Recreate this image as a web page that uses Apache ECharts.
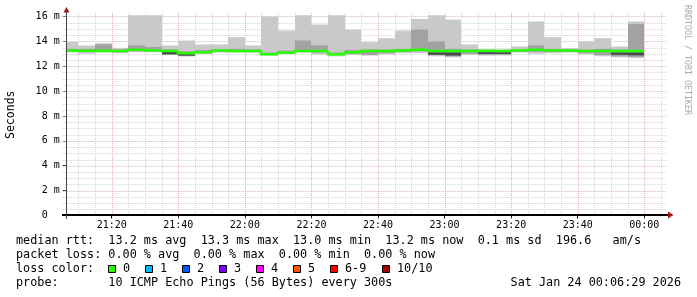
<!DOCTYPE html>
<html><head><meta charset="utf-8">
<script src="https://cdn.jsdelivr.net/npm/echarts@6/dist/echarts.min.js"></script>
<style>html,body{margin:0;padding:0;background:#fff}#c{width:697px;height:297px}</style>
</head><body><div id="c"></div>
<script>
// ---- data (ms), one entry per 5-minute step, keyed by step end time ----
const barEnds = ['21:10','21:15','21:20','21:25','21:30','21:35','21:40','21:45','21:50','21:55',
  '22:00','22:05','22:10','22:15','22:20','22:25','22:30','22:35','22:40','22:45',
  '22:50','22:55','23:00','23:05','23:10','23:15','23:20','23:25','23:30','23:35',
  '23:40','23:45','23:50','23:55','00:00'];
const rttMax = [13.95,13.67,13.85,13.48,16.10,16.10,13.67,14.07,13.75,13.75,
  14.34,13.67,16.00,14.87,16.10,15.35,16.10,14.95,13.93,14.25,
  14.87,15.80,16.10,15.75,13.75,13.35,13.35,13.59,15.60,14.34,
  13.46,13.99,14.25,13.59,15.60];
const rttMin = [13.12,13.00,13.10,13.05,13.12,13.12,12.90,12.78,13.00,13.10,
  13.10,13.10,12.86,13.00,13.10,12.94,12.80,13.05,12.86,12.94,
  13.05,13.05,12.80,12.72,12.90,12.86,12.86,13.10,13.00,13.05,
  13.10,12.95,12.80,12.72,12.65];
const rttMidHi = [13.40,13.40,13.75,13.35,13.67,13.55,13.35,13.20,13.30,13.35,
  13.40,13.35,13.10,13.25,14.07,13.67,13.10,13.30,13.35,13.35,
  13.40,14.95,13.99,13.40,13.35,13.30,13.30,13.35,13.67,13.40,
  13.35,13.35,13.40,13.35,15.40];
const rttMidLo = [13.18,13.15,13.15,13.12,13.20,13.20,13.00,12.85,13.05,13.18,
  13.15,13.15,12.90,13.02,13.15,13.10,12.90,12.95,12.90,13.05,
  13.15,13.20,12.90,12.80,13.00,12.95,12.95,13.18,13.15,13.15,
  13.18,13.05,12.90,12.80,12.75];
const rttCoreLo = [null,null,null,null,null,null,12.95,12.85,null,null,
  null,null,12.99,null,null,null,12.99,null,null,null,
  null,null,12.92,12.86,null,12.98,12.98,null,null,null,
  null,null,null,12.92,12.88];
const rttCoreHi = [null,null,null,null,null,null,13.15,13.00,null,null,
  null,null,13.05,null,null,null,13.05,null,null,null,
  null,null,13.12,13.12,null,13.12,13.12,null,null,null,
  null,null,null,13.12,13.12];
const rttMedian = [13.25,13.24,13.24,13.22,13.32,13.26,13.22,13.05,13.13,13.26,
  13.22,13.22,12.96,13.08,13.22,13.22,12.96,13.13,13.22,13.22,
  13.26,13.32,13.22,13.22,13.22,13.25,13.22,13.26,13.32,13.26,
  13.26,13.22,13.22,13.22,13.22];
const xTickLabels = ['21:20','21:40','22:00','22:20','22:40','23:00','23:20','23:40','00:00'];
const yTickValues = [0,2,4,6,8,10,12,14,16];
const graphStartTime = '21:06:29';
const rttStats = {avg:'13.2', max:'13.3', min:'13.0', now:'13.2', sd:'0.1', amps:'196.6'};
const lossStats = {avg:'0.00', max:'0.00', min:'0.00', now:'0.00'};
const lossLabels = ['0','1','2','3','4','5','6-9','10/10'];
const lossColors = ['#26ff00','#00b8ff','#0059ff','#7e00ff','#ff00ff','#ff5500','#ff0000','#a10000'];
const probeText = '10 ICMP Echo Pings (56 Bytes) every 300s';
const dateText = 'Sat Jan 24 00:06:29 2026';

// ---- helpers ----
const MONO = '"DejaVu Sans Mono", monospace';
function toMin(s){ const p = s.split(':').map(Number); return (p[0] < 12 ? p[0] + 24 : p[0]) * 60 + p[1] + (p[2] || 0) / 60; }
const tStart = toMin(graphStartTime);
const tEnd = tStart + 180;
const ends = barEnds.map(toMin);
const starts = ends.map((e, i) => i === 0 ? tStart : ends[i - 1]);
const xTickVals = xTickLabels.map(toMin);
const Y_MAX = 16.2;
const C_OUT = '#c9c9c9', C_MID = '#a2a2a2', C_CORE = '#4a4a4a', GREEN = lossColors[0];
const MAJ = '#eab0b0', MINC = '#d4d4d4';

const vGrid = []; for (let m = 1270; m <= 1445; m += 5) vGrid.push([m, 0]);
const hGrid = []; for (let v = 0.5; v <= 16; v += 0.5) hGrid.push([tStart, v]);

function fmtX(v){ const m = Math.round(v) % 1440; const h = Math.floor(m / 60), mm = m % 60; return String(h).padStart(2,'0') + ':' + String(mm).padStart(2,'0'); }
function fmtY(v){ if (v === 0) return ' 0  '; return (v < 10 ? ' ' : '') + v + ' m'; }

const chart = echarts.init(document.getElementById('c'), null, {renderer: 'canvas'});
const row1 = 'median rtt:  ' + rttStats.avg + ' ms avg  ' + rttStats.max + ' ms max  ' + rttStats.min + ' ms min  ' + rttStats.now + ' ms now  ' + rttStats.sd + ' ms sd  ' + rttStats.amps + '   am/s';
const row2 = 'packet loss: ' + lossStats.avg + ' % avg  ' + lossStats.max + ' % max  ' + lossStats.min + ' % min  ' + lossStats.now + ' % now';
const legendFont = {fontFamily: MONO, fontSize: 11.8, fill: '#000'};
const graphics = [
  {type:'text', x:16, y:241.3, style:Object.assign({text: row1, verticalAlign:'middle'}, legendFont)},
  {type:'text', x:16, y:254.7, style:Object.assign({text: row2, verticalAlign:'middle'}, legendFont)},
  {type:'text', x:16, y:269, style:Object.assign({text: 'loss color:', verticalAlign:'middle'}, legendFont)},
  {type:'text', x:16, y:283, style:Object.assign({text: 'probe:       ' + probeText, verticalAlign:'middle'}, legendFont)},
  {type:'text', x:681, y:283, style:Object.assign({text: dateText, verticalAlign:'middle', align:'right'}, legendFont)},
  {type:'text', x:687.5, y:60, rotation:-Math.PI/2, style:{text:'RRDTOOL / TOBI OETIKER', fontFamily:MONO, fontSize:8.3, fill:'#aaaaaa', align:'center', verticalAlign:'middle'}},
  // axis lines and arrows
  {type:'line', z:100, shape:{x1:62, y1:215, x2:668, y2:215}, style:{stroke:'#000', lineWidth:2}},
  {type:'line', z:100, shape:{x1:66.5, y1:219, x2:66.5, y2:11}, style:{stroke:'#444', lineWidth:1}},
  {type:'polygon', z:101, shape:{points:[[63.5,12.5],[69.5,12.5],[66.5,7]]}, style:{fill:'#a01818'}},
  {type:'polygon', z:101, shape:{points:[[668,211.5],[668,218.5],[673.5,215]]}, style:{fill:'#a01818'}}
];
const boxX = [108,145,182,219,256,293,330,382];
lossLabels.forEach((lab, i) => {
  graphics.push({type:'rect', shape:{x:boxX[i]+0.5, y:265.5, width:7, height:7}, style:{fill:lossColors[i], stroke:'#000', lineWidth:1}});
  graphics.push({type:'text', x:boxX[i]+15, y:269, style:Object.assign({text: lab, verticalAlign:'middle'}, legendFont)});
});

chart.setOption({
  animation: false,
  backgroundColor: '#fff',
  grid: {left: 66.7, right: 31.1, top: 14, bottom: 81.5, containLabel: false, outerBoundsMode: 'none'},
  xAxis: {type:'value', min:tStart, max:tEnd,
    axisLine:{show:false}, splitLine:{show:false},
    axisTick:{show:true, customValues:xTickVals, length:3, lineStyle:{color:'#000'}},
    axisLabel:{customValues:xTickVals, formatter:fmtX, fontFamily:MONO, fontSize:10, color:'#000', margin:5}},
  yAxis: {type:'value', min:0, max:Y_MAX,
    axisLine:{show:false}, splitLine:{show:false},
    axisTick:{show:true, customValues:yTickValues, length:4, lineStyle:{color:'#444'}},
    axisLabel:{customValues:yTickValues, formatter:fmtY, fontFamily:MONO, fontSize:10, color:'#000', margin:7},
    name:'Seconds', nameLocation:'middle', nameRotate:90, nameGap:50,
    nameTextStyle:{fontFamily:MONO, fontSize:11.5, color:'#000'}},
  graphic: graphics,
  series: [
    {type:'custom', silent:true, z:1, data:hGrid, encode:{x:0, y:1},
      renderItem:(p, api) => {
        const v = api.value(1);
        const a = api.coord([tStart, v]), b = api.coord([tEnd, v]);
        const y = Math.round(a[1]) + 0.5;
        const major = Math.abs(v % 2) < 1e-6;
        return {type:'line', shape:{x1:a[0]-4, y1:y, x2:b[0]+1, y2:y}, style:{stroke: major ? MAJ : MINC, lineWidth:1, lineDash:[1,1]}};
      }},
    {type:'custom', silent:true, z:1, data:vGrid, encode:{x:0, y:1},
      renderItem:(p, api) => {
        const v = api.value(0);
        const a = api.coord([v, Y_MAX]), b = api.coord([v, 0]);
        const x = Math.round(a[0]) + 0.5;
        const major = Math.round(v) % 20 === 0;
        return {type:'line', shape:{x1:x, y1:a[1]-1, x2:x, y2:b[1]+2}, style:{stroke: major ? MAJ : MINC, lineWidth:1, lineDash:[1,1]}};
      }},
    {type:'custom', silent:true, z:2, data: ends.map((e, i) => [starts[i], e, rttMin[i], rttMax[i]]), encode:{x:[0,1], y:[2,3]},
      renderItem:(p, api) => {
        const i = p.dataIndex;
        const xs = Math.round(api.coord([starts[i], 0])[0]), xe = Math.round(api.coord([ends[i], 0])[0]);
        const Y = v => api.coord([starts[i], v])[1];
        const band = (lo, hi, c) => ({type:'rect', shape:{x:xs, y:Y(hi), width:xe-xs, height:Y(lo)-Y(hi)}, style:{fill:c}});
        const ch = [band(rttMin[i], rttMax[i], C_OUT), band(rttMidLo[i], rttMidHi[i], C_MID)];
        if (rttCoreLo[i] != null) ch.push(band(rttCoreLo[i], rttCoreHi[i], C_CORE));
        return {type:'group', children: ch};
      }},
    {type:'custom', silent:true, z:3, data: ends.map((e, i) => [starts[i], e, rttMedian[i]]), encode:{x:[0,1], y:2},
      renderItem:(p, api) => {
        const i = p.dataIndex;
        const xs = Math.round(api.coord([starts[i], 0])[0]), xe = Math.round(api.coord([ends[i], 0])[0]);
        const y = api.coord([starts[i], rttMedian[i]])[1];
        const yp = i > 0 ? api.coord([starts[i], rttMedian[i-1]])[1] : y;
        return {type:'polyline', shape:{points:[[xs, yp], [xs, y], [xe, y]]}, style:{stroke:GREEN, lineWidth:2.6, fill:null}};
      }}
  ]
});
</script></body></html>
